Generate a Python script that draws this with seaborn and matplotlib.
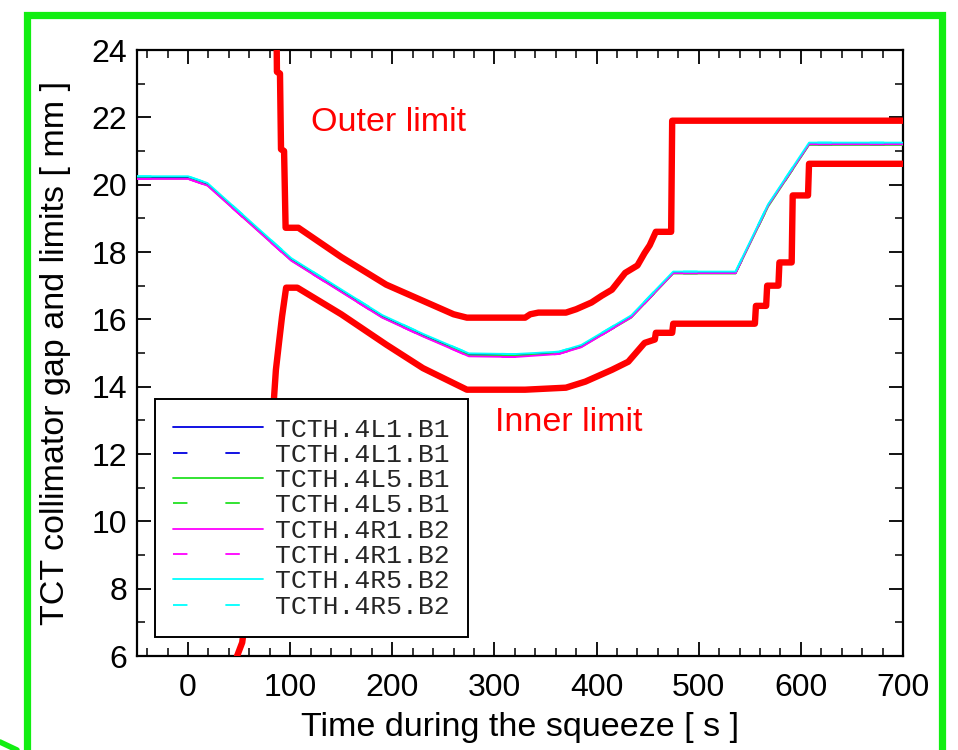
import matplotlib
matplotlib.use("Agg")
import matplotlib.pyplot as plt
from matplotlib.ticker import MultipleLocator
from matplotlib.patches import Rectangle
from matplotlib.lines import Line2D
import seaborn as sns
import pandas as pd

# ---------------- data ----------------
time_gap = [-50, 0, 19, 101, 190, 230, 275, 320, 363, 385, 434, 475, 536, 568, 608, 700]
gap_4L1_B1 = [20.20, 20.20, 20.00, 17.77, 16.08, 15.52, 14.95, 14.93, 15.00, 15.20, 16.08, 17.38, 17.38, 19.40, 21.20, 21.20]
gap_4L5_B1 = [20.18, 20.18, 19.98, 17.75, 16.06, 15.50, 14.93, 14.92, 14.98, 15.18, 16.05, 17.36, 17.36, 19.35, 21.18, 21.18]
gap_4R1_B2 = [20.17, 20.17, 19.97, 17.74, 16.05, 15.49, 14.90, 14.88, 14.97, 15.17, 16.06, 17.37, 17.37, 19.38, 21.20, 21.20]
gap_4R5_B2 = [20.25, 20.25, 20.05, 17.82, 16.13, 15.57, 14.99, 14.97, 15.04, 15.24, 16.12, 17.42, 17.42, 19.42, 21.25, 21.25]

outer_t = [86.5, 87, 90, 91, 94, 95.5, 108, 150, 194, 230, 260, 273, 330, 335, 343, 370,
           380, 395, 405, 415, 428, 440, 447, 452, 458, 473, 474, 700]
outer_v = [25.0, 23.35, 23.3, 21.05, 21.0, 18.72, 18.72, 17.85, 17.03, 16.55, 16.15, 16.05, 16.05, 16.15, 16.2, 16.2,
           16.3, 16.5, 16.7, 16.88, 17.38, 17.6, 17.97, 18.2, 18.6, 18.6, 21.9, 21.9]

inner_t = [46, 48, 53, 84, 86, 89, 92, 96, 107, 150, 194, 230, 273, 330, 370, 389, 415, 431, 447,
           457, 458, 474, 475, 555, 556, 566, 567, 578, 579, 591, 592, 607, 608, 700]
inner_v = [4.5, 6.0, 6.4, 13.6, 14.5, 15.3, 16.08, 16.94, 16.94, 16.15, 15.25, 14.55, 13.91, 13.91, 13.97, 14.15, 14.5, 14.74, 15.3,
           15.4, 15.6, 15.6, 15.87, 15.87, 16.4, 16.4, 17.0, 17.0, 17.69, 17.69, 19.68, 19.68, 20.62, 20.62]

series_labels = ["TCTH.4L1.B1", "TCTH.4L1.B1", "TCTH.4L5.B1", "TCTH.4L5.B1",
                 "TCTH.4R1.B2", "TCTH.4R1.B2", "TCTH.4R5.B2", "TCTH.4R5.B2"]
series_values = [gap_4L1_B1, gap_4L1_B1, gap_4L5_B1, gap_4L5_B1,
                 gap_4R1_B2, gap_4R1_B2, gap_4R5_B2, gap_4R5_B2]
series_colors = ["#0000e0", "#0000e0", "#22e022", "#22e022",
                 "#ff00ff", "#ff00ff", "#00ffff", "#00ffff"]
series_dashed = [False, True, False, True, False, True, False, True]

x_ticks = [0, 100, 200, 300, 400, 500, 600, 700]
y_ticks = [6, 8, 10, 12, 14, 16, 18, 20, 22, 24]

# ---------------- style ----------------
sns.set_theme(style="ticks")
plt.rcParams["font.family"] = ["Liberation Sans", "DejaVu Sans"]

fig = plt.figure(figsize=(9.58, 7.5), dpi=100)
fig.patch.set_facecolor("white")
ax = fig.add_axes([137 / 958, 1 - 656 / 750, 766 / 958, 606 / 750])
ax.set_facecolor("white")

# green slide frame
fig.add_artist(Rectangle((26.5 / 958, -0.05), (942 - 26.5) / 958, 1.05 - 15.5 / 750,
                         transform=fig.transFigure, fill=False, edgecolor="#11ee11",
                         linewidth=5.2, zorder=-1))
fig.add_artist(Line2D([0, 17 / 958], [1 - 742 / 750, 0], transform=fig.transFigure,
                      color="#11ee11", linewidth=4))

# collimator gaps
for lab, vals, col, dashed in zip(series_labels, series_values, series_colors, series_dashed):
    df = pd.DataFrame({"t": time_gap, "gap": vals})
    kw = dict(dashes=(8, 21)) if dashed else {}
    sns.lineplot(data=df, x="t", y="gap", ax=ax, color=col, linewidth=1.3,
                 label=lab, sort=False, estimator=None, zorder=3, **kw)

# limits
df_out = pd.DataFrame({"t": outer_t, "v": outer_v})
df_in = pd.DataFrame({"t": inner_t, "v": inner_v})
sns.lineplot(data=df_out, x="t", y="v", ax=ax, color="#ff0000", linewidth=4.6,
             sort=False, estimator=None, zorder=4, legend=False)
sns.lineplot(data=df_in, x="t", y="v", ax=ax, color="#ff0000", linewidth=4.6,
             sort=False, estimator=None, zorder=4, legend=False)

ax.text(120, 21.85, "Outer limit", color="#ff0000", fontsize=24.5, ha="left", va="center")
ax.text(301, 12.95, "Inner limit", color="#ff0000", fontsize=24.5, ha="left", va="center")

ax.set_xlim(-50, 700)
ax.set_ylim(6, 24)
ax.set_xticks(x_ticks)
ax.set_yticks(y_ticks)
ax.xaxis.set_minor_locator(MultipleLocator(20))
ax.yaxis.set_minor_locator(MultipleLocator(1))
ax.tick_params(which="both", direction="in", top=True, right=True, colors="black",
               labelsize=23)
ax.tick_params(axis="y", which="both", pad=7)
ax.tick_params(axis="x", which="both", pad=12.5)
ax.tick_params(which="major", length=10, width=1.3)
ax.tick_params(which="minor", length=5.5, width=1.1)
for s in ax.spines.values():
    s.set_linewidth(1.6)
    s.set_color("black")

ax.set_xlabel("Time during the squeeze [ s ]", fontsize=24.5, color="black", labelpad=6)
ax.set_ylabel("TCT collimator gap and limits [ mm ]", fontsize=24.5, color="black")
ax.yaxis.set_label_coords(-0.086, 0.5)

leg = ax.legend(loc="lower left", bbox_to_anchor=(0.0235, 0.031), borderaxespad=0,
                prop={"family": ["Liberation Mono", "DejaVu Sans Mono"], "size": 19},
                handlelength=3.4, handletextpad=0.45, labelspacing=0.05,
                borderpad=0.7, frameon=True, fancybox=False, framealpha=1,
                edgecolor="black")
leg.get_frame().set_linewidth(1.4)
leg.set_zorder(10)

fig.savefig("out.png", dpi=100, facecolor="white")
